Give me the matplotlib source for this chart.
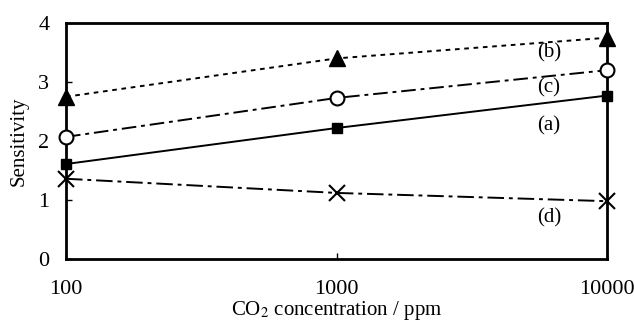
import numpy as np
import matplotlib
matplotlib.use("Agg")
import matplotlib.pyplot as plt

plt.rcParams["font.family"] = ["Liberation Serif", "DejaVu Serif"]
plt.rcParams["mathtext.fontset"] = "stix"

# data
conc = [100, 1000, 10000]
sens_a = [1.61, 2.22, 2.77]
sens_b = [2.75, 3.40, 3.75]
sens_c = [2.07, 2.73, 3.20]
sens_d = [1.36, 1.12, 0.98]

fig = plt.figure(figsize=(6.34, 3.23), dpi=100)
ax = fig.add_axes([66 / 634, 1 - 259 / 323, 541 / 634, 236 / 323])

lw = 1.4
ax.plot(conc, sens_b, color="k", lw=lw, ls=(0, (2.4, 2.4)),
        marker="^", ms=11, mfc="k", clip_on=False, zorder=3)
ax.plot(conc, sens_c, color="k", lw=lw, ls=(0, (7.5, 2.5, 2, 2.5)),
        marker="o", ms=10, mfc="white", mew=1.5, clip_on=False, zorder=3)
ax.plot(conc, sens_a, color="k", lw=lw, ls="-",
        marker="s", ms=6.5, mfc="k", clip_on=False, zorder=3)
ax.plot(conc, sens_d, color="k", lw=lw, ls=(0, (8.5, 2.5, 2, 2.5)),
        marker="x", ms=11, mew=1.5, clip_on=False, zorder=3)

# curve labels
for lab, yv in [("(b)", 3.49), ("(c)", 2.90), ("(a)", 2.25), ("(d)", 0.69)]:
    ax.text(6100, yv, lab, fontsize=15, ha="center", va="center")

ax.set_xscale("log")
ax.set_xlim(100, 10000)
ax.set_ylim(0, 4)
ax.set_xticks([100, 1000, 10000])
ax.set_xticklabels(["100", "1000", "10000"])
ax.minorticks_off()
ax.set_yticks([0, 1, 2, 3, 4])
ax.tick_params(direction="in", length=4, width=1, labelsize=16, pad=12)
ax.tick_params(axis="x", pad=15)
for s in ax.spines.values():
    s.set_linewidth(2)

ax.set_xlabel("CO$_2$ concentration / ppm", fontsize=15, labelpad=0)
ax.set_ylabel("Sensitivity", fontsize=15, labelpad=7)

plt.savefig("out.png", dpi=100)
